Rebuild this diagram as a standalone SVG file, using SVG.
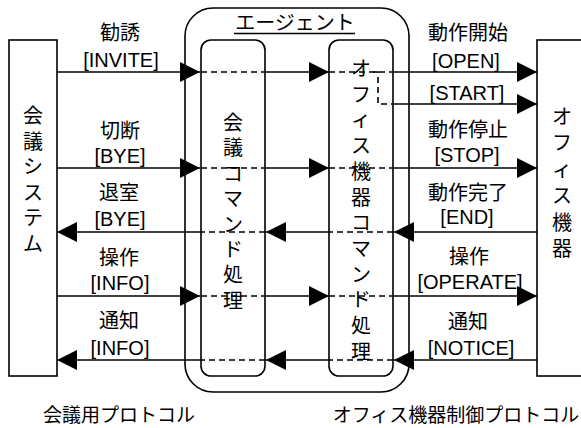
<svg xmlns="http://www.w3.org/2000/svg" width="581" height="428" viewBox="0 0 581 428">
<style>
  .box { fill: none; stroke: #000; stroke-width: 1.6; }
  .ln { fill: none; stroke: #000; stroke-width: 1.6; }
  .dash { fill: none; stroke: #000; stroke-width: 1.6; stroke-dasharray: 6 4; }
  text { font-family: "Liberation Sans", "Noto Sans CJK JP", sans-serif; font-size: 20px; fill: #000; text-anchor: middle; }
  .small { font-size: 19px; }
</style>
<defs>
  <marker id="ah" viewBox="0 0 20 20" refX="20" refY="10" markerWidth="20" markerHeight="20" markerUnits="userSpaceOnUse" orient="auto">
    <path d="M0,0 L20,10 L0,20 z" fill="#000"/>
  </marker>
</defs>
<rect width="581" height="428" fill="#fff"/>

<g id="conference-system">
  <rect class="box" x="9" y="40" width="48" height="336"/>
  <text><tspan x="33" y="123">会</tspan><tspan x="33" y="148.6">議</tspan><tspan x="33" y="174.2">シ</tspan><tspan x="33" y="199.8">ス</tspan><tspan x="33" y="225.4">テ</tspan><tspan x="33" y="251">ム</tspan></text>
</g>

<g id="office-device">
  <rect class="box" x="537" y="40" width="60" height="336"/>
  <text><tspan x="562" y="123.6">オ</tspan><tspan x="562" y="150.1">フ</tspan><tspan x="562" y="176.6">ィ</tspan><tspan x="562" y="203.1">ス</tspan><tspan x="562" y="229.6">機</tspan><tspan x="562" y="256.1">器</tspan></text>
</g>

<g id="agent">
  <rect class="box" x="185" y="8" width="224" height="384" rx="28" ry="28"/>
  <text x="295" y="30">エージェント</text>
  <line class="ln" x1="234" y1="33.5" x2="355" y2="33.5"/>
</g>

<g id="conf-command">
  <rect class="box" x="201" y="40" width="64" height="336" rx="10" ry="10"/>
  <text><tspan x="233" y="130">会</tspan><tspan x="233" y="155.4">議</tspan><tspan x="233" y="180.8">コ</tspan><tspan x="233" y="206.2">マ</tspan><tspan x="233" y="231.6">ン</tspan><tspan x="233" y="257">ド</tspan><tspan x="233" y="282.4">処</tspan><tspan x="233" y="307.8">理</tspan></text>
</g>

<g id="device-command">
  <rect class="box" x="329" y="40" width="64" height="336" rx="10" ry="10"/>
  <text><tspan x="361" y="76">オ</tspan><tspan x="361" y="101.7">フ</tspan><tspan x="361" y="127.4">ィ</tspan><tspan x="361" y="153.1">ス</tspan><tspan x="361" y="178.8">機</tspan><tspan x="361" y="204.5">器</tspan><tspan x="361" y="230.2">コ</tspan><tspan x="361" y="255.9">マ</tspan><tspan x="361" y="281.6">ン</tspan><tspan x="361" y="307.3">ド</tspan><tspan x="361" y="333">処</tspan><tspan x="361" y="358.7">理</tspan></text>
</g>

<g id="connectors">
  <!-- row 1: INVITE / OPEN -->
  <line class="ln" x1="57" y1="72" x2="200" y2="72" marker-end="url(#ah)"/>
  <line class="dash" x1="201" y1="72" x2="265" y2="72"/>
  <line class="ln" x1="265" y1="72" x2="329" y2="72" marker-end="url(#ah)"/>
  <line class="dash" x1="329" y1="72" x2="393" y2="72"/>
  <line class="ln" x1="393" y1="72" x2="537" y2="72" marker-end="url(#ah)"/>
  <!-- START branch -->
  <path class="dash" d="M373,72 H378 V104 H393"/>
  <line class="ln" x1="393" y1="104" x2="537" y2="104" marker-end="url(#ah)"/>
  <!-- row 2: BYE / STOP -->
  <line class="ln" x1="57" y1="168" x2="200" y2="168" marker-end="url(#ah)"/>
  <line class="dash" x1="201" y1="168" x2="265" y2="168"/>
  <line class="ln" x1="265" y1="168" x2="329" y2="168" marker-end="url(#ah)"/>
  <line class="dash" x1="329" y1="168" x2="393" y2="168"/>
  <line class="ln" x1="393" y1="168" x2="537" y2="168" marker-end="url(#ah)"/>
  <!-- row 3: BYE / END (leftward) -->
  <line class="ln" x1="537" y1="232" x2="394" y2="232" marker-end="url(#ah)"/>
  <line class="dash" x1="393" y1="232" x2="329" y2="232"/>
  <line class="ln" x1="329" y1="232" x2="266" y2="232" marker-end="url(#ah)"/>
  <line class="dash" x1="265" y1="232" x2="201" y2="232"/>
  <line class="ln" x1="201" y1="232" x2="57" y2="232" marker-end="url(#ah)"/>
  <!-- row 4: INFO / OPERATE -->
  <line class="ln" x1="57" y1="296" x2="200" y2="296" marker-end="url(#ah)"/>
  <line class="dash" x1="201" y1="296" x2="265" y2="296"/>
  <line class="ln" x1="265" y1="296" x2="329" y2="296" marker-end="url(#ah)"/>
  <line class="dash" x1="329" y1="296" x2="393" y2="296"/>
  <line class="ln" x1="393" y1="296" x2="537" y2="296" marker-end="url(#ah)"/>
  <!-- row 5: INFO / NOTICE (leftward) -->
  <line class="ln" x1="537" y1="360" x2="394" y2="360" marker-end="url(#ah)"/>
  <line class="dash" x1="393" y1="360" x2="329" y2="360"/>
  <line class="ln" x1="329" y1="360" x2="266" y2="360" marker-end="url(#ah)"/>
  <line class="dash" x1="265" y1="360" x2="201" y2="360"/>
  <line class="ln" x1="201" y1="360" x2="57" y2="360" marker-end="url(#ah)"/>
</g>

<g id="labels-left">
  <text x="120" y="40">勧誘</text>
  <text x="121" y="67">[INVITE]</text>
  <text x="120" y="137.5">切断</text>
  <text x="120" y="163">[BYE]</text>
  <text x="119" y="200">退室</text>
  <text x="120" y="226">[BYE]</text>
  <text x="119" y="264.5">操作</text>
  <text x="120" y="290">[INFO]</text>
  <text x="119" y="327.5">通知</text>
  <text x="120" y="355">[INFO]</text>
</g>

<g id="labels-right">
  <text x="468" y="40">動作開始</text>
  <text x="466" y="68">[OPEN]</text>
  <text x="467" y="100">[START]</text>
  <text x="468" y="137">動作停止</text>
  <text x="467" y="162">[STOP]</text>
  <text x="468" y="200">動作完了</text>
  <text x="467" y="224">[END]</text>
  <text x="469" y="264">操作</text>
  <text x="470" y="289">[OPERATE]</text>
  <text x="468" y="329">通知</text>
  <text x="471" y="355">[NOTICE]</text>
</g>

<g id="protocol-labels">
  <text class="small" x="119" y="422">会議用プロトコル</text>
  <text class="small" x="456" y="422">オフィス機器制御プロトコル</text>
</g>
</svg>
